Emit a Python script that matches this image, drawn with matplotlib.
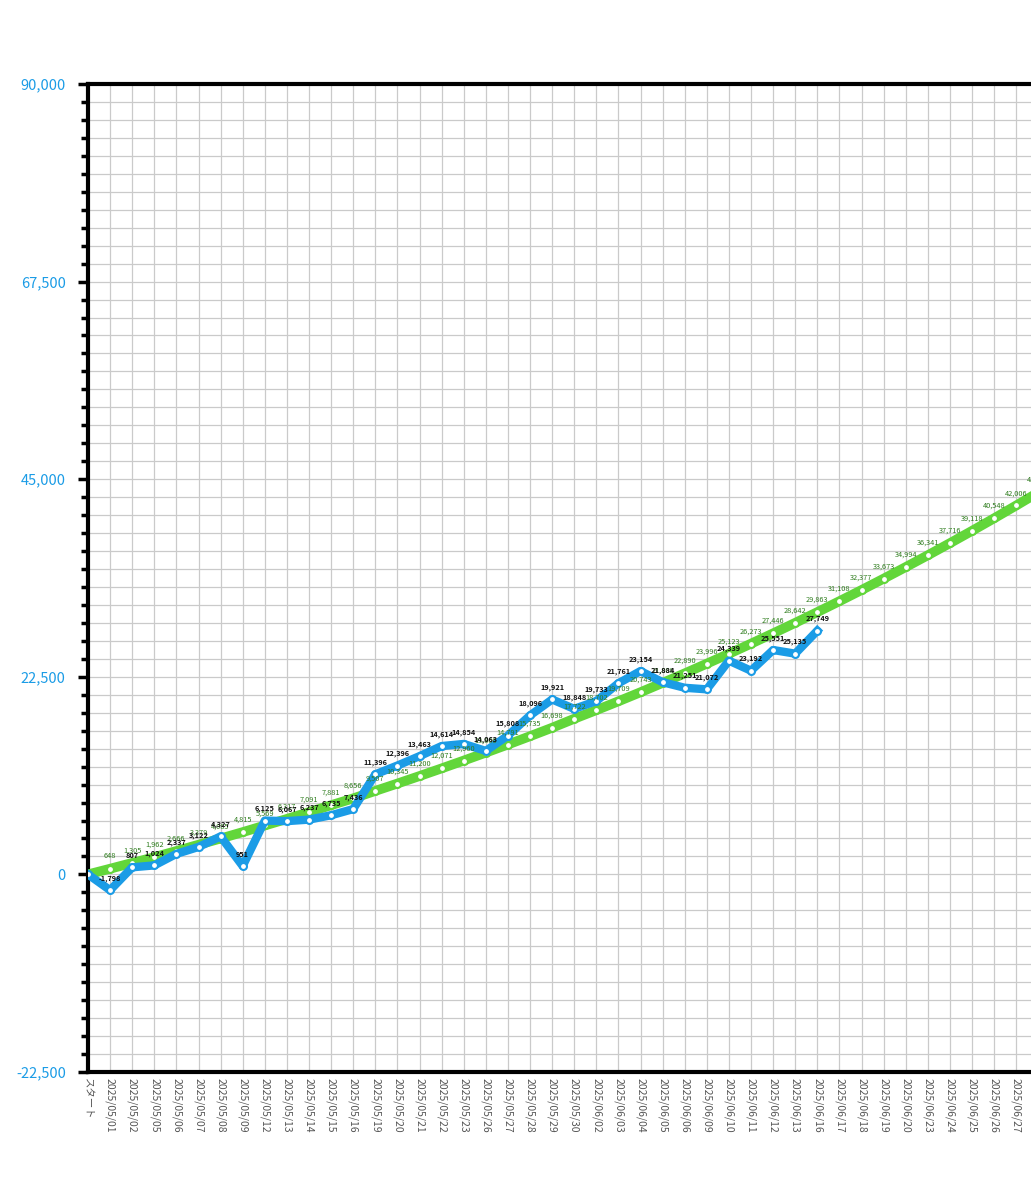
import matplotlib
matplotlib.use("Agg")
import matplotlib.pyplot as plt
from matplotlib.ticker import FuncFormatter, AutoMinorLocator

plt.rcParams['font.family'] = ['Noto Sans CJK JP', 'DejaVu Sans']

categories = ["スタート", "2025/05/01", "2025/05/02", "2025/05/05", "2025/05/06", "2025/05/07",
              "2025/05/08", "2025/05/09", "2025/05/12", "2025/05/13", "2025/05/14", "2025/05/15",
              "2025/05/16", "2025/05/19", "2025/05/20", "2025/05/21", "2025/05/22", "2025/05/23",
              "2025/05/26", "2025/05/27", "2025/05/28", "2025/05/29", "2025/05/30", "2025/06/02",
              "2025/06/03", "2025/06/04", "2025/06/05", "2025/06/06", "2025/06/09", "2025/06/10",
              "2025/06/11", "2025/06/12", "2025/06/13", "2025/06/16", "2025/06/17", "2025/06/18",
              "2025/06/19", "2025/06/20", "2025/06/23", "2025/06/24", "2025/06/25", "2025/06/26",
              "2025/06/27", "2025/06/30"]

target = [0, 648, 1305, 1962, 2666, 3379, 4085, 4815, 5569, 6317, 7091, 7881,
          8656, 9507, 10345, 11200, 12071, 12960, 13866, 14791, 15735, 16698, 17722, 18702,
          19709, 20743, 21808, 22890, 23996, 25123, 26273, 27446, 28642, 29863, 31108, 32377,
          33673, 34994, 36341, 37716, 39118, 40548, 42006, 43493]

actual = [0, -1798, 807, 1024, 2337, 3122, 4327, 951, 6125, 6067, 6237, 6735,
          7436, 11396, 12396, 13463, 14614, 14854, 14063, 15808, 18096, 19921, 18848, 19733,
          21761, 23154, 21884, 21251, 21072, 24339, 23192, 25551, 25135, 27749]

yticks = [-22500, 0, 22500, 45000, 67500, 90000]

GREEN = "#62d63a"
BLUE = "#1b9ce6"

fig = plt.figure(figsize=(10.31, 12), dpi=100)
px = 22.1 / 1031
ax = fig.add_axes([88 / 1031, 1 - 1072 / 1200, px * 45, (1072 - 84) / 1200])

x_t = list(range(len(target)))
x_a = list(range(len(actual)))

ax.plot(x_t, target, color=GREEN, lw=7, solid_joinstyle='round', zorder=3,
        marker='o', ms=5, mfc='white', mec=GREEN, mew=1.5)
ax.plot(x_a, actual, color=BLUE, lw=6, solid_joinstyle='round', zorder=4,
        marker='o', ms=5, mfc='white', mec=BLUE, mew=1.5)

for i, v in enumerate(target):
    if i == 0:
        continue
    ax.annotate(f"{v:,}", (i, v), xytext=(0, 6), textcoords='offset points',
                ha='center', va='bottom', fontsize=5.3, color='#2f7d1e', zorder=5)
for i, v in enumerate(actual):
    if i == 0:
        continue
    ax.annotate(f"{v:,}", (i, v), xytext=(0, 6), textcoords='offset points',
                ha='center', va='bottom', fontsize=5.3, color='#111111',
                fontweight='bold', zorder=6)

ax.set_xlim(0, 45)
ax.set_ylim(-22500, 90000)
ax.set_yticks(yticks)
ax.yaxis.set_minor_locator(AutoMinorLocator(11))
ax.yaxis.set_major_formatter(FuncFormatter(lambda v, p: f"{int(v):,}"))
ax.set_xticks(range(len(categories)))
ax.set_xticklabels(categories, rotation=270, fontsize=7.5, color='#555555')

ax.grid(True, which='both', color='#cacaca', lw=0.9, zorder=0)
ax.set_axisbelow(True)

for s in ['left', 'top', 'bottom']:
    ax.spines[s].set_linewidth(3)
    ax.spines[s].set_color('black')
ax.spines['right'].set_visible(False)

ax.tick_params(axis='y', which='major', colors='black', labelcolor=BLUE,
               labelsize=10.5, length=7, width=2.5, pad=9)
ax.tick_params(axis='y', which='minor', colors='black', length=5, width=2.5)
ax.tick_params(axis='x', length=0, pad=4)

fig.savefig("out.png", dpi=100)
